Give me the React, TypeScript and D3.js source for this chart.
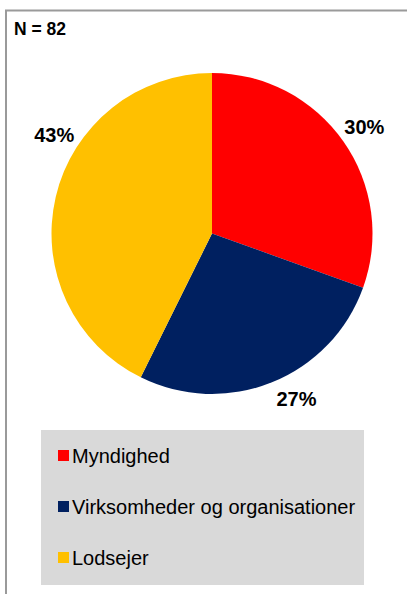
import React from "react";
import * as d3 from "d3";

const categories = ["Myndighed", "Virksomheder og organisationer", "Lodsejer"];
const counts = [25, 22, 35];
const percentLabels = ["30%", "27%", "43%"];
const colors = ["#ff0000", "#002060", "#ffc000"];
const totalN = 82;

// label placement (Excel-style manual placement): angle in degrees clockwise from top, radius
const labelAngles = [55, 153, 302];
const labelRadius = 186;

const W = 407;
const H = 594;
const cx = 212;
const cy = 233.5;
const R = 160.5;

export default function App() {
  const pie = d3.pie<number>().sort(null).value((d) => d)(counts);
  const arc = d3.arc<d3.PieArcDatum<number>>().innerRadius(0).outerRadius(R);
  const font = "'Liberation Sans', Arial, sans-serif";

  const legendX = 41;
  const legendY = 430;
  const legendW = 323;
  const legendH = 155;
  const rowY = d3.scalePoint<string>().domain(categories).range([456, 558]);

  return (
    <svg
      width={W}
      height={H}
      style={{ position: "absolute", left: 0, top: 0, background: "#fff" }}
      fontFamily={font}
    >
      <rect x={6} y={10.5} width={W + 10} height={H + 10} fill="#fff" stroke="#9a9a9a" strokeWidth={2} />
      <text x={14} y={34.5} fontSize={17.5} fontWeight="bold" fill="#000">
        N = {totalN}
      </text>
      <g transform={`translate(${cx},${cy})`}>
        {pie.map((p, i) => (
          <path key={i} d={arc(p) || ""} fill={colors[i]} />
        ))}
        {pie.map((p, i) => {
          const a = (labelAngles[i] * Math.PI) / 180;
          const x = Math.sin(a) * labelRadius;
          const y = -Math.cos(a) * labelRadius;
          return (
            <text
              key={i}
              x={x}
              y={y}
              dy="0.36em"
              textAnchor="middle"
              fontSize={20}
              fontWeight="bold"
              fill="#000"
            >
              {percentLabels[i]}
            </text>
          );
        })}
      </g>
      <rect x={legendX} y={legendY} width={legendW} height={legendH} fill="#d9d9d9" />
      {categories.map((c, i) => {
        const y = rowY(c) as number;
        return (
          <g key={c}>
            <rect x={58} y={y - 6} width={11} height={11} fill={colors[i]} />
            <text x={72} y={y + 7.3} fontSize={20} fill="#000">
              {c}
            </text>
          </g>
        );
      })}
    </svg>
  );
}
